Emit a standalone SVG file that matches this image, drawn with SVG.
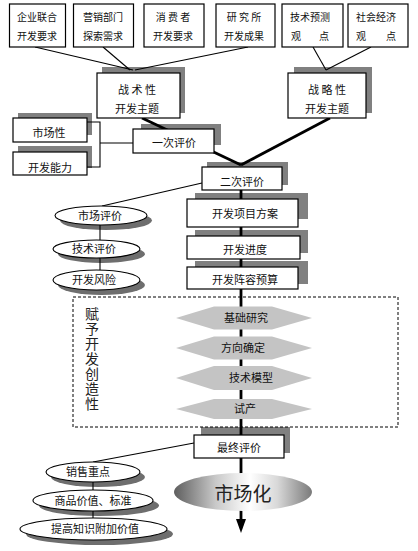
<svg xmlns="http://www.w3.org/2000/svg" width="418" height="551" viewBox="0 0 418 551">
<style>
  text { font-family: "Noto Sans CJK SC", "Noto Sans", sans-serif; fill: #111; text-anchor: middle; }
  .t10 { font-size: 10px; }
  .t11 { font-size: 11px; }
  .box { fill: #fff; stroke: #000; stroke-width: 1.2; }
  .sh { fill: #808080; }
  .esh { fill: #6e6e6e; }
  .ell { fill: #fff; stroke: #000; stroke-width: 1.1; }
  .dia { fill: #c4c4c4; }
  .ln { stroke: #000; stroke-width: 1.1; fill: none; }
  .thk { stroke: #000; stroke-width: 2.8; fill: none; }
  .vert { font-size: 14px; fill: #222; writing-mode: vertical-rl; text-anchor: start; letter-spacing: 1px; }
</style>
<defs>
  <linearGradient id="mkt" x1="0" y1="0" x2="1" y2="0">
    <stop offset="0" stop-color="#5e5e5e"/>
    <stop offset="0.3" stop-color="#c8c8c8"/>
    <stop offset="0.55" stop-color="#ffffff"/>
    <stop offset="0.75" stop-color="#d8d8d8"/>
    <stop offset="1" stop-color="#7a7a7a"/>
  </linearGradient>
</defs>
<rect width="418" height="551" fill="#fff"/>

<g id="shadows">
  <rect class="sh" x="102" y="67" width="83" height="46"/>
  <rect class="sh" x="294" y="67" width="78" height="46"/>
  <rect class="sh" x="18" y="113" width="74" height="22"/>
  <rect class="sh" x="18" y="146" width="74" height="22"/>
  <rect class="sh" x="141" y="124" width="80" height="21"/>
  <rect class="sh" x="207" y="162" width="81" height="23"/>
  <rect class="sh" x="195" y="193" width="113" height="26"/>
  <rect class="sh" x="195" y="230" width="113" height="23"/>
  <rect class="sh" x="195" y="261" width="113" height="23"/>
  <rect class="sh" x="201" y="427" width="89" height="26"/>
  <ellipse class="esh" cx="106" cy="220.5" rx="46" ry="9.5"/>
  <ellipse class="esh" cx="101.5" cy="254" rx="43.5" ry="9"/>
  <ellipse class="esh" cx="101.5" cy="285" rx="43.5" ry="10"/>
  <ellipse class="esh" cx="98" cy="477" rx="47" ry="10"/>
  <ellipse class="esh" cx="99" cy="505.5" rx="60" ry="10.5"/>
  <ellipse class="esh" cx="99.5" cy="534" rx="73.5" ry="11"/>
</g>

<g id="connectors">
  <line class="ln" x1="35" y1="47" x2="133" y2="70"/>
  <line class="ln" x1="103" y1="47" x2="130" y2="70"/>
  <line class="ln" x1="248" y1="47" x2="135" y2="70"/>
  <line class="ln" x1="313" y1="47" x2="326" y2="70"/>
  <line class="ln" x1="371" y1="47" x2="326" y2="70"/>
  <polyline class="ln" points="87,122 100,122 100,167 87,167"/>
  <line class="ln" x1="100" y1="143" x2="133" y2="143"/>
  <line class="thk" x1="142" y1="118" x2="241" y2="165"/>
  <line class="thk" x1="330" y1="118" x2="241" y2="165"/>
  <line class="ln" x1="202" y1="183" x2="102" y2="206"/>
  <line class="ln" x1="100" y1="225" x2="100" y2="240"/>
  <line class="ln" x1="100" y1="258" x2="100" y2="270"/>
  <line class="ln" x1="194" y1="443" x2="93" y2="462"/>
  <line class="ln" x1="93" y1="482" x2="93" y2="490"/>
  <line class="ln" x1="93" y1="511" x2="93" y2="518"/>
  <line class="thk" x1="241" y1="190" x2="241" y2="522"/>
  <polygon points="236,519 246,519 241,533" fill="#000"/>
</g>

<g id="n-qiye"><rect class="box" x="9.5" y="4" width="56" height="43"/>
  <text class="t10" x="37" y="21">企业联合</text><text class="t10" x="37" y="40">开发要求</text></g>
<g id="n-yingxiao"><rect class="box" x="73.5" y="4" width="60" height="43"/>
  <text class="t10" x="103" y="21">营销部门</text><text class="t10" x="103" y="40">探索需求</text></g>
<g id="n-xiaofei"><rect class="box" x="144" y="4" width="60" height="43"/>
  <text class="t10" x="173" y="21">消 费 者</text><text class="t10" x="173" y="40">开发要求</text></g>
<g id="n-yanjiu"><rect class="box" x="216" y="4" width="59" height="43"/>
  <text class="t10" x="244" y="21">研 究 所</text><text class="t10" x="244" y="40">开发成果</text></g>
<g id="n-jishu"><rect class="box" x="282" y="4" width="61" height="43"/>
  <text class="t10" x="310" y="21">技术预测</text><text class="t10" y="40"><tspan x="296">观</tspan><tspan x="324">点</tspan></text></g>
<g id="n-shehui"><rect class="box" x="348" y="4" width="60" height="43"/>
  <text class="t10" x="376" y="21">社会经济</text><text class="t10" y="40"><tspan x="361">观</tspan><tspan x="391">点</tspan></text></g>

<g id="n-zhanshu"><rect class="box" x="97" y="73" width="83" height="45"/>
  <text class="t11" x="137" y="94">战 术 性</text><text class="t11" x="137" y="113">开发主题</text></g>
<g id="n-zhanlue"><rect class="box" x="288" y="73" width="78" height="45"/>
  <text class="t11" x="327" y="94">战 略 性</text><text class="t11" x="327" y="113">开发主题</text></g>

<g id="n-shichangxing"><rect class="box" x="13" y="118" width="74" height="24"/>
  <text class="t11" x="49" y="137">市场性</text></g>
<g id="n-kaifanengli"><rect class="box" x="13" y="152" width="74" height="23"/>
  <text class="t11" x="50" y="172">开发能力</text></g>

<g id="n-yici"><rect class="box" x="133" y="129" width="81" height="24"/>
  <text class="t11" x="174" y="147">一次评价</text></g>
<g id="n-erci"><rect class="box" x="202" y="167" width="80" height="23"/>
  <text class="t11" x="242" y="186">二次评价</text></g>

<g id="n-fangan"><rect class="box" x="187" y="199" width="111" height="28"/>
  <text class="t11" x="245" y="218">开发项目方案</text></g>
<g id="n-jindu"><rect class="box" x="187" y="236" width="113" height="23"/>
  <text class="t11" x="245" y="254">开发进度</text></g>
<g id="n-yusuan"><rect class="box" x="187" y="267" width="111" height="22"/>
  <text class="t11" x="245" y="284">开发阵容预算</text></g>

<g id="n-scpj"><ellipse class="ell" cx="101" cy="215.5" rx="46" ry="9.5"/>
  <text class="t11" x="100" y="219.5">市场评价</text></g>
<g id="n-jspj"><ellipse class="ell" cx="96.5" cy="249" rx="43.5" ry="9"/>
  <text class="t11" x="94" y="253">技术评价</text></g>
<g id="n-kffx"><ellipse class="ell" cx="96.5" cy="280" rx="43.5" ry="10"/>
  <text class="t11" x="94" y="284">开发风险</text></g>

<g id="n-chuangzao">
  <rect x="73" y="297" width="325" height="130" fill="none" stroke="#000" stroke-width="1" stroke-dasharray="3,2"/>
  <text class="vert" x="92" y="307">赋予开发创造性</text>
</g>

<g id="n-jichu"><polygon class="dia" points="176,318 214,306.5 272,306.5 312,318 272,329.5 214,329.5"/>
  <text class="t11" x="246" y="322">基础研究</text></g>
<g id="n-fangxiang"><polygon class="dia" points="176,348 214,336.5 272,336.5 312,348 272,359.5 214,359.5"/>
  <text class="t11" x="243" y="352">方向确定</text></g>
<g id="n-moxing"><polygon class="dia" points="176,378 214,366 272,366 312,378 272,390 214,390"/>
  <text class="t11" x="251" y="382">技术模型</text></g>
<g id="n-shichan"><polygon class="dia" points="176,409 214,399 272,399 312,409 272,419 214,419"/>
  <text class="t11" x="245" y="413">试产</text></g>

<g id="n-zuizhong"><rect class="box" x="194" y="435" width="90" height="23"/>
  <text class="t11" x="239" y="452">最终评价</text></g>

<g id="n-xiaoshou"><ellipse class="ell" cx="93" cy="472" rx="47" ry="10"/>
  <text class="t11" x="88" y="476">销售重点</text></g>
<g id="n-jiazhi"><ellipse class="ell" cx="93" cy="500.5" rx="60" ry="10.5"/>
  <text class="t11" x="93" y="505">商品价值、标准</text></g>
<g id="n-fujia"><ellipse class="ell" cx="93.5" cy="529" rx="73.5" ry="11"/>
  <text class="t11" x="95" y="533">提高知识附加价值</text></g>

<g id="n-shichanghua"><ellipse cx="243" cy="492" rx="69" ry="19" fill="url(#mkt)"/>
  <text x="243" y="501" style="font-size:19px;fill:#222">市场化</text></g>
</svg>
